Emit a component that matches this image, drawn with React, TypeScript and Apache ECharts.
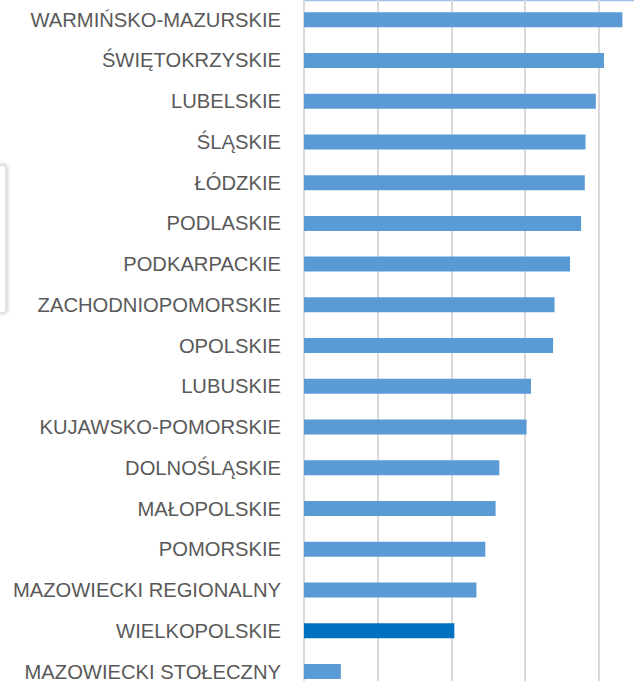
import React, { useEffect, useRef } from "react";
import * as echarts from "echarts";

const categories = [
  "WARMIŃSKO-MAZURSKIE",
  "ŚWIĘTOKRZYSKIE",
  "LUBELSKIE",
  "ŚLĄSKIE",
  "ŁÓDZKIE",
  "PODLASKIE",
  "PODKARPACKIE",
  "ZACHODNIOPOMORSKIE",
  "OPOLSKIE",
  "LUBUSKIE",
  "KUJAWSKO-POMORSKIE",
  "DOLNOŚLĄSKIE",
  "MAŁOPOLSKIE",
  "POMORSKIE",
  "MAZOWIECKI REGIONALNY",
  "WIELKOPOLSKIE",
  "MAZOWIECKI STOŁECZNY",
];

const values = [43.2, 40.7, 39.6, 38.2, 38.1, 37.6, 36.1, 34.0, 33.8, 30.8, 30.2, 26.5, 26.0, 24.6, 23.4, 20.4, 5.0];

const highlighted = "WIELKOPOLSKIE";

export default function App() {
  const ref = useRef<HTMLDivElement>(null);
  useEffect(() => {
    if (!ref.current) return;
    const chart = echarts.init(ref.current, null, { renderer: "svg" });
    chart.setOption({
      animation: false,
      grid: { left: 304, top: 19.3, width: 368.5, height: 692.6 },
      xAxis: {
        type: "value",
        min: 0,
        max: 50,
        interval: 10,
        axisLabel: { show: false },
        axisLine: { show: false },
        axisTick: { show: false },
        splitLine: { lineStyle: { color: "#d9d9d9", width: 2 } },
      },
      yAxis: {
        type: "category",
        data: categories,
        inverse: true,
        axisLine: { show: true, lineStyle: { color: "#d9d9d9", width: 2 } },
        axisTick: { show: false },
        axisLabel: {
          margin: 23,
          fontSize: 20.2,
          color: "#595959",
          fontFamily: "Liberation Sans",
        },
      },
      series: [
        {
          type: "bar",
          barWidth: 15,
          data: values.map((v, i) => ({
            value: v,
            itemStyle: {
              color: categories[i] === highlighted ? "#0070C0" : "#5B9BD5",
            },
          })),
        },
      ],
      graphic: [
        {
          type: "line",
          shape: { x1: 304, y1: 20.5, x2: 700, y2: 20.5 },
          style: { stroke: "#9DC3E6", lineWidth: 1.5 },
        },
        {
          type: "rect",
          shape: { x: -10, y: 185, width: 16, height: 148, r: 3 },
          style: {
            fill: "#ffffff",
            stroke: "#d0d0d0",
            lineWidth: 1,
            shadowBlur: 4,
            shadowColor: "rgba(0,0,0,0.2)",
            shadowOffsetX: 1,
          },
        },
      ],
    });
    return () => chart.dispose();
  }, []);
  return (
    <div
      ref={ref}
      style={{ position: "fixed", left: 0, top: -20, width: 700, height: 740, background: "#fff" }}
    />
  );
}
